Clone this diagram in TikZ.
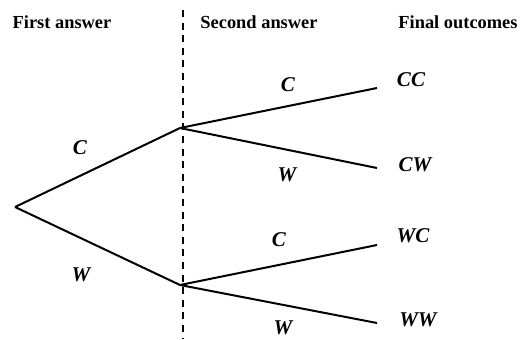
\documentclass[tikz,border=0pt]{standalone}
\usepackage{fontspec}
\setmainfont{Liberation Serif}
\usepackage{tikz}
\usetikzlibrary{positioning}

\begin{document}
\begin{tikzpicture}[
  x=0.5pt, y=-0.5pt,
  header/.style={font=\fontsize{9.2}{11}\selectfont\bfseries, inner sep=0pt},
  choice/.style={font=\fontsize{10.5}{12}\selectfont\bfseries\itshape, inner sep=0pt},
  outcome/.style={font=\fontsize{10.5}{12}\selectfont\bfseries\itshape, inner sep=0pt},
  branch/.style={line width=1pt},
  divider/.style={line width=0.8pt, dash pattern=on 3.5pt off 2.8pt}
]
\useasboundingbox (0,0) rectangle (521,339);
% headers
\node[header] (first) at (62,22) {First answer};
\node[header] (second) at (259,22) {Second answer};
\node[header] (final) at (458,22) {Final outcomes};
% split between the two answers
\coordinate (divtop) at (183,10);
\coordinate (divbot) at (183,339);
\draw[divider] (divtop) -- (divbot);
% tree points
\coordinate (root) at (15,207);
\coordinate (upper) at (180,128);
\coordinate (lower) at (180,285);
\coordinate (ccend) at (377,88);
\coordinate (cwend) at (377,168);
\coordinate (wcend) at (377,245);
\coordinate (wwend) at (377,323);
\node[outcome] (cc) at (411,80) {CC};
\node[outcome] (cw) at (415,165) {CW};
\node[outcome] (wc) at (413,236) {WC};
\node[outcome] (ww) at (418,320) {WW};
% branches
\draw[branch] (root) -- (upper);
\draw[branch] (root) -- (lower);
\draw[branch] (upper) -- (ccend);
\draw[branch] (upper) -- (cwend);
\draw[branch] (lower) -- (wcend);
\draw[branch] (lower) -- (wwend);
% branch labels
\node[choice] (c1) at (80,148) {C};
\node[choice] (w1) at (81,275) {W};
\node[choice] (c2) at (288,85) {C};
\node[choice] (w2) at (287,175) {W};
\node[choice] (c3) at (279,240) {C};
\node[choice] (w3) at (283,328) {W};
\end{tikzpicture}
\end{document}
